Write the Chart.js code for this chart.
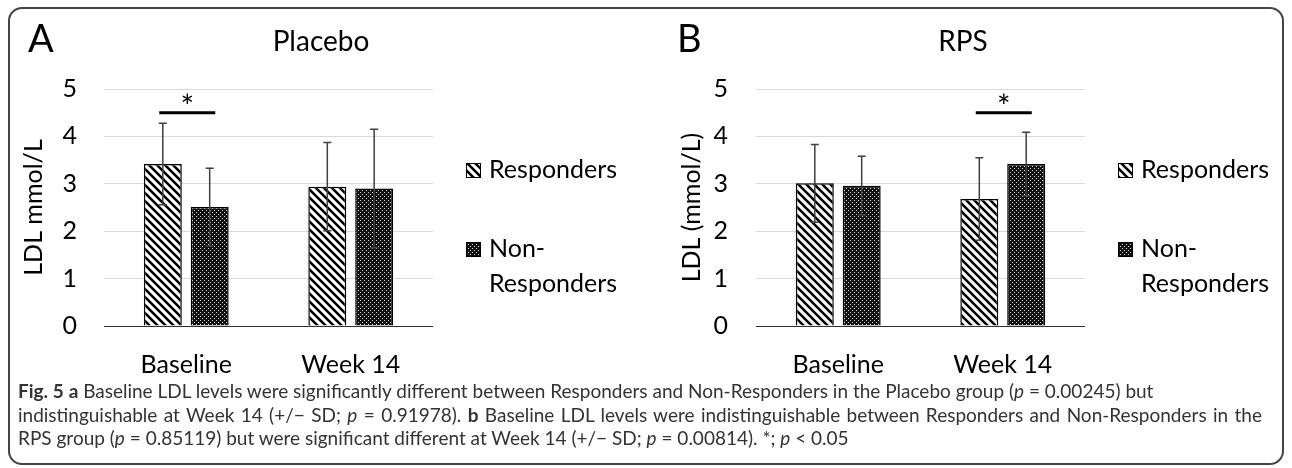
<!DOCTYPE html>
<html lang="en">
<head>
  <meta charset="UTF-8">
  <title>Fig. 5 LDL</title>
  <script src="https://cdn.jsdelivr.net/npm/chart.js@4"></script>
  <style>
    body { margin: 0; width: 1292px; height: 468px; background: #fff; overflow: hidden; position: relative; font-family: Lato, sans-serif; }
    #frame { position: absolute; left: 8px; top: 7px; width: 1276px; height: 458px; border: 2px solid #444; border-radius: 14px; box-sizing: border-box; }
    canvas { position: absolute; top: 0; }
    #caption { position: absolute; left: 18px; top: 379px; font-size: 19px; line-height: 23.5px; color: #333; }
    #caption div { white-space: nowrap; }
    #caption .just { width: 1244px; text-align: justify; text-align-last: justify; }
  </style>
</head>
<body>
  <div id="frame"></div>
  <canvas id="chartA" width="646" height="380" style="left:0"></canvas>
  <canvas id="chartB" width="646" height="380" style="left:646px"></canvas>
  <div id="caption">
    <div><b>Fig. 5</b> <b>a</b> Baseline LDL levels were significantly different between Responders and Non-Responders in the Placebo group (<i>p</i> = 0.00245) but</div>
    <div class="just">indistinguishable at Week 14 (+/− SD; <i>p</i> = 0.91978). <b>b</b> Baseline LDL levels were indistinguishable between Responders and Non-Responders in the</div>
    <div>RPS group (<i>p</i> = 0.85119) but were significant different at Week 14 (+/− SD; <i>p</i> = 0.00814). *; <i>p</i> &lt; 0.05</div>
  </div>

  <script>
    // data
    const categories = ['Baseline', 'Week 14'];
    const seriesNames = ['Responders', 'Non-Responders'];
    const legendLines = [['Responders'], ['Non-', 'Responders']];
    const yTicks = [0, 1, 2, 3, 4, 5];

    const placeboResp = [3.42, 2.94];
    const placeboRespSD = [0.86, 0.93];
    const placeboNon = [2.51, 2.90];
    const placeboNonSD = [0.82, 1.25];

    const rpsResp = [3.01, 2.68];
    const rpsRespSD = [0.82, 0.87];
    const rpsNon = [2.96, 3.42];
    const rpsNonSD = [0.62, 0.67];

    const placeboSig = [{ category: 'Baseline', y: 4.5 }];
    const rpsSig = [{ category: 'Week 14', y: 4.5 }];

    const FONT = 'Lato';

    function stripePattern() {
      const c = document.createElement('canvas');
      c.width = c.height = 8;
      const g = c.getContext('2d');
      g.fillStyle = '#fff';
      g.fillRect(0, 0, 8, 8);
      g.strokeStyle = '#000';
      g.lineWidth = 2.6;
      g.beginPath();
      for (const o of [-8, 0, 8]) {
        g.moveTo(o - 2, -2);
        g.lineTo(o + 10, 10);
      }
      g.stroke();
      return g.createPattern(c, 'repeat');
    }

    function dotPattern() {
      const c = document.createElement('canvas');
      c.width = c.height = 4;
      const g = c.getContext('2d');
      g.fillStyle = '#111';
      g.fillRect(0, 0, 4, 4);
      g.fillStyle = '#d8d8d8';
      g.fillRect(0, 0, 1, 1);
      g.fillRect(2, 2, 1, 1);
      return g.createPattern(c, 'repeat');
    }

    function panelPlugin(opts) {
      return {
        id: 'panelExtras',
        afterDatasetsDraw(chart) {
          const { ctx, scales: { x, y } } = chart;
          ctx.save();
          // error bars
          ctx.strokeStyle = '#404040';
          ctx.lineWidth = 1.5;
          chart.data.datasets.forEach((ds, di) => {
            chart.getDatasetMeta(di).data.forEach((bar, i) => {
              const v = ds.data[i], sd = ds.sd[i];
              const top = y.getPixelForValue(v + sd);
              const bot = y.getPixelForValue(v - sd);
              ctx.beginPath();
              ctx.moveTo(bar.x, top); ctx.lineTo(bar.x, bot);
              ctx.moveTo(bar.x - 4, top); ctx.lineTo(bar.x + 4, top);
              ctx.moveTo(bar.x - 4, bot); ctx.lineTo(bar.x + 4, bot);
              ctx.stroke();
            });
          });
          // significance markers
          opts.sig.forEach(s => {
            const cx = x.getPixelForValue(categories.indexOf(s.category));
            const py = y.getPixelForValue(s.y);
            ctx.strokeStyle = '#000';
            ctx.lineWidth = 3;
            ctx.beginPath();
            ctx.moveTo(cx - 27, py); ctx.lineTo(cx + 29, py);
            ctx.stroke();
            ctx.fillStyle = '#000';
            ctx.font = '32px ' + FONT;
            ctx.textAlign = 'center';
            ctx.textBaseline = 'alphabetic';
            ctx.fillText('*', cx + 1, py + 5);
          });
          ctx.restore();
        },
        afterDraw(chart) {
          const { ctx, chartArea: a } = chart;
          ctx.save();
          ctx.fillStyle = '#000';
          ctx.textBaseline = 'alphabetic';
          // panel letter and title
          ctx.textAlign = 'left';
          ctx.font = '38px ' + FONT;
          ctx.fillText(opts.letter, opts.letterX, 52);
          ctx.textAlign = 'center';
          ctx.font = '28px ' + FONT;
          ctx.fillText(opts.title, opts.titleX, 51);
          // legend
          const lx = a.right + 33;
          const boxTops = [163, 242];
          const baselines = [[178], [257, 292]];
          ctx.textAlign = 'left';
          ctx.font = '25px ' + FONT;
          chart.data.datasets.forEach((ds, i) => {
            ctx.fillStyle = ds.backgroundColor;
            ctx.fillRect(lx, boxTops[i], 15, 15);
            ctx.strokeStyle = '#000';
            ctx.lineWidth = 1;
            ctx.strokeRect(lx + 0.5, boxTops[i] + 0.5, 14, 14);
            ctx.fillStyle = '#000';
            legendLines[i].forEach((t, k) => ctx.fillText(t, lx + 23, baselines[i][k]));
          });
          ctx.restore();
        }
      };
    }

    function buildPanel(canvasId, opts) {
      const stripes = stripePattern();
      const dots = dotPattern();
      return new Chart(document.getElementById(canvasId), {
        type: 'bar',
        data: {
          labels: categories,
          datasets: [
            { label: seriesNames[0], data: opts.resp, sd: opts.respSD, backgroundColor: stripes,
              borderColor: '#000', borderWidth: 1.5, categoryPercentage: 0.57, barPercentage: 0.81 },
            { label: seriesNames[1], data: opts.non, sd: opts.nonSD, backgroundColor: dots,
              borderColor: '#000', borderWidth: 1.5, categoryPercentage: 0.57, barPercentage: 0.81 }
          ]
        },
        options: {
          responsive: false,
          animation: false,
          devicePixelRatio: 1,
          layout: { padding: { left: 0, top: 89, right: opts.padRight, bottom: 0 } },
          plugins: { legend: { display: false }, tooltip: { enabled: false } },
          scales: {
            x: {
              grid: { display: false },
              border: { display: false },
              ticks: { color: '#000', font: { family: FONT, size: 25 }, padding: 16, maxRotation: 0 },
              afterFit: s => { s.height = 54; }
            },
            y: {
              min: 0,
              max: 5,
              afterBuildTicks: s => { s.ticks = yTicks.map(v => ({ value: v })); },
              ticks: { color: '#000', font: { family: FONT, size: 25 }, padding: opts.tickPad },
              grid: {
                drawTicks: false,
                lineWidth: 1,
                color: c => (c.tick && c.tick.value === 0 ? '#303030' : '#d9d9d9')
              },
              border: { display: false },
              title: {
                display: true,
                text: opts.yTitle,
                color: '#000',
                font: { family: FONT, size: 25, lineHeight: 1.2 },
                padding: { top: opts.titlePad, bottom: 0 }
              },
              afterFit: s => { s.width = opts.axisWidth; }
            }
          }
        },
        plugins: [panelPlugin(opts)]
      });
    }

    function build() {
      buildPanel('chartA', {
        resp: placeboResp, respSD: placeboRespSD, non: placeboNon, nonSD: placeboNonSD,
        yTitle: 'LDL mmol/L', title: 'Placebo', letter: 'A', letterX: 28, titleX: 321,
        sig: placeboSig, padRight: 213, axisWidth: 104, tickPad: 27, titlePad: 19
      });
      buildPanel('chartB', {
        resp: rpsResp, respSD: rpsRespSD, non: rpsNon, nonSD: rpsNonSD,
        yTitle: 'LDL (mmol/L)', title: 'RPS', letter: 'B', letterX: 31, titleX: 317,
        sig: rpsSig, padRight: 207, axisWidth: 110, tickPad: 28, titlePad: 31
      });
    }

    Promise.all([document.fonts.load('25px Lato'), document.fonts.load('bold 18px Lato')])
      .catch(() => {})
      .then(build);
  </script>
</body>
</html>
